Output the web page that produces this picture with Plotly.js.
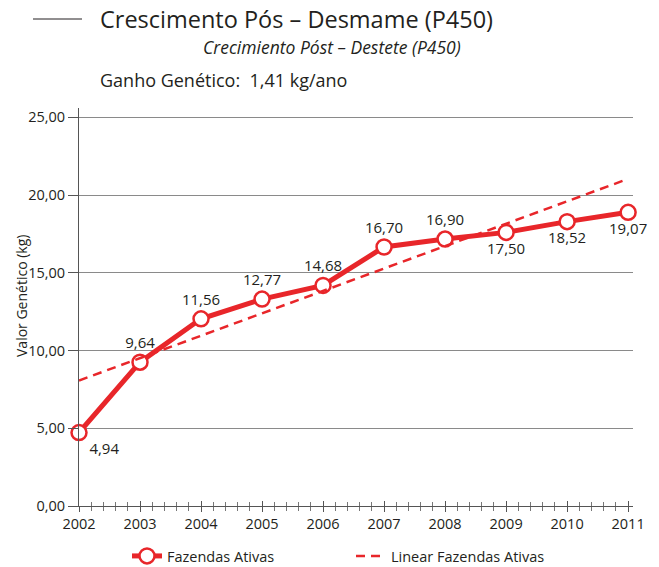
<!DOCTYPE html>
<html>
<head>
<meta charset="utf-8">
<script src="https://cdn.plot.ly/plotly-3.0.1.min.js"></script>
<style>
  body { margin: 0; background: #fff; }
  #chart { width: 659px; height: 567px; }
</style>
</head>
<body>
<div id="chart"></div>
<script>
// values
var years = [2002, 2003, 2004, 2005, 2006, 2007, 2008, 2009, 2010, 2011];
var valores = [4.72, 9.25, 12.04, 13.31, 14.19, 16.66, 17.17, 17.6, 18.29, 18.89];
var rotulos = ["4,94", "9,64", "11,56", "12,77", "14,68", "16,70", "16,90", "17,50", "18,52", "19,07"];
var posRotulos = ["bottom right", "top center", "top center", "top center", "top center",
  "top center", "top center", "bottom center", "bottom center", "bottom center"];

// linear trend, end points
var trendYears = [2002, 2011];
var trendValores = [8.07, 21.04];

var yTicks = [0, 5, 10, 15, 20, 25];

var red = "#e8262a";
var txt = "#231f20";

// plot area in pixels: left 79, right 633, top 108, bottom 506
function px(x) { return (x - 79) / 554; }
function py(y) { return (506 - y) / 398; }

var trace = {
  x: years,
  y: valores,
  text: rotulos,
  textposition: posRotulos,
  mode: "lines+markers+text",
  name: "Fazendas Ativas",
  line: { color: red, width: 5 },
  marker: { symbol: "circle", size: 15, color: "#fff", line: { color: red, width: 2.5 } },
  textfont: { size: 15, color: txt },
  cliponaxis: false
};

var trend = {
  x: trendYears,
  y: trendValores,
  xaxis: "x2",
  mode: "lines",
  name: "Linear Fazendas Ativas",
  line: { color: red, width: 2.5, dash: "9px,6px" }
};

var data = [trend, trace];

var layout = {
  width: 659,
  height: 567,
  margin: { l: 79, r: 26, t: 108, b: 61 },
  paper_bgcolor: "#fff",
  plot_bgcolor: "#fff",
  font: { family: "Open Sans, sans-serif", size: 14, color: txt },
  separators: ",.",
  showlegend: true,
  legend: {
    orientation: "h",
    xref: "container", yref: "container",
    x: 127 / 659, y: 1 - 556 / 567,
    xanchor: "left", yanchor: "middle",
    entrywidth: 179,
    traceorder: "reversed",
    font: { size: 14.5, color: txt }
  },
  xaxis: {
    range: [2002, 2011.08],
    tickvals: years,
    ticks: "outside",
    ticklen: 5,
    tickwidth: 1,
    tickcolor: "#555",
    minor: { dtick: 0.2, tick0: 2002, ticks: "outside", ticklen: 4, tickcolor: "#777" },
    showline: true,
    linecolor: "#555",
    linewidth: 1,
    showgrid: false,
    zeroline: false,
    tickfont: { size: 14.5, color: txt }
  },
  xaxis2: {
    matches: "x",
    overlaying: "x",
    anchor: "y",
    tickvals: years,
    ticks: "inside",
    ticklen: 5,
    tickwidth: 1,
    tickcolor: "#555",
    minor: { dtick: 0.2, tick0: 2002, ticks: "inside", ticklen: 4, tickcolor: "#777" },
    showticklabels: false,
    showline: false,
    showgrid: false,
    zeroline: false
  },
  yaxis: {
    range: [0, 25.6],
    tickvals: yTicks,
    tickformat: ".2f",
    ticks: "outside",
    ticklen: 10,
    tickcolor: "#555",
    showline: true,
    linecolor: "#555",
    linewidth: 1,
    showgrid: true,
    gridcolor: "#8a8a8a",
    gridwidth: 1,
    zeroline: false,
    tickfont: { size: 14.5, color: txt }
  },
  shapes: [
    { type: "line", xref: "paper", yref: "paper", x0: px(33), x1: px(82), y0: py(19), y1: py(19),
      line: { color: txt, width: 1 } }
  ],
  annotations: [
    { text: "Crescimento Pós – Desmame (P450)", xref: "paper", yref: "paper",
      x: px(98), y: py(19), xanchor: "left", yanchor: "middle", showarrow: false,
      font: { size: 23.5, color: txt } },
    { text: "<i>Crecimiento Póst – Destete (P450)</i>", xref: "paper", yref: "paper",
      x: px(463), y: py(47), xanchor: "right", yanchor: "middle", showarrow: false,
      font: { size: 17.5, color: txt } },
    { text: "Ganho Genético:  1,41 kg/ano", xref: "paper", yref: "paper",
      x: px(98), y: py(80), xanchor: "left", yanchor: "middle", showarrow: false,
      font: { size: 18, color: txt } },
    { text: "Valor Genético (kg)", xref: "paper", yref: "paper",
      x: px(21), y: py(296), xanchor: "center", yanchor: "middle", textangle: -90,
      showarrow: false, font: { size: 14, color: txt } }
  ]
};

Plotly.newPlot("chart", data, layout, { displayModeBar: false });
</script>
</body>
</html>
